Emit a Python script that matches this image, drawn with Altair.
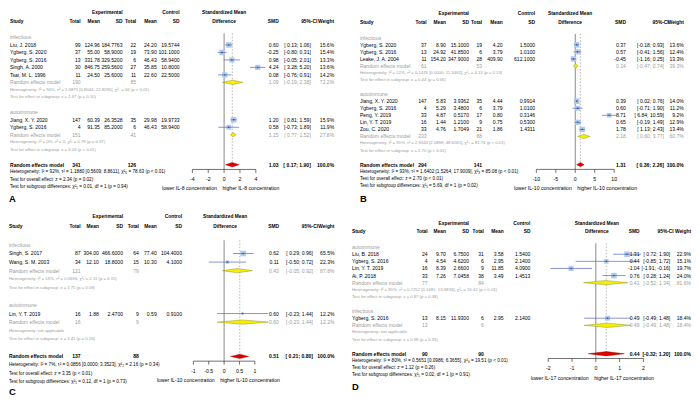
import altair as alt
import pandas as pd

# ---------------- data ----------------
# Panel A : IL-8
A_group = ["infectious"] * 5 + ["autoimmune"] * 2
A_study = ["Liu, J. 2018", "Ygberg, S. 2020", "Ygberg, S. 2016", "Singh, A. 2000",
           "Tsai, M. L. 1996", "Jiang, X. Y. 2020", "Ygberg, S. 2016"]
A_e_n = [99, 37, 13, 30, 11, 147, 4]
A_e_mean = [124.96, 55.00, 331.78, 846.75, 24.50, 60.39, 91.35]
A_e_sd = [184.7763, 58.9000, 329.5200, 259.5600, 25.6000, 26.3528, 85.2000]
A_c_n = [22, 19, 6, 27, 11, 35, 6]
A_c_mean = [24.20, 73.90, 46.43, 35.85, 22.60, 29.98, 46.43]
A_c_sd = [19.5744, 101.1000, 58.9400, 10.8000, 22.5000, 19.9733, 58.9400]
A_smd = [0.60, -0.25, 0.98, 4.24, 0.08, 1.20, 0.58]
A_lo = [0.13, -0.80, -0.05, 3.28, -0.76, 0.81, -0.73]
A_hi = [1.06, 0.31, 2.01, 5.20, 0.91, 1.59, 1.89]
A_w = [15.6, 15.4, 13.3, 13.6, 14.2, 15.9, 11.9]
A_sub_names = ["infectious", "autoimmune"]
A_sub_e_n = [190, 151]
A_sub_c_n = [85, 41]
A_sub_smd = [1.09, 1.15]
A_sub_lo = [-0.19, 0.77]
A_sub_hi = [2.38, 1.52]
A_sub_w = [72.2, 27.8]
A_sub_het = ["Heterogeneity: I² = 94%, τ² = 1.9875 [0.8044; 22.8295], χ²₄ = 66 (p < 0.01)",
             "Heterogeneity: I² = 0%, τ² = 0, χ²₁ = 0.79 (p = 0.37)"]
A_sub_test = ["Test for effect in subgroup: z = 1.67 (p = 0.10)",
              "Test for effect in subgroup: z = 6.03 (p < 0.01)"]
A_all = [341, 126, 1.03, 0.17, 1.90, 100.0]
A_all_text = ["Heterogeneity: I² = 92%, τ² = 1.1880 [0.5609; 8.8611], χ²₆ = 78.63 (p < 0.01)",
              "Test for overall effect: z = 2.34 (p = 0.02)",
              "Test for subgroup differences: χ²₁ = 0.01, df = 1 (p = 0.94)"]
A_ticks = [-4, -2, 0, 2, 4]
A_axis_labels = ["lower IL-8 concentration", "higher IL-8 concentration"]

# Panel B : IL-10
B_group = ["infectious"] * 3 + ["autoimmune"] * 5
B_study = ["Ygberg, S. 2020", "Ygberg, S. 2016", "Leake, J. A. 2004", "Jiang, X. Y. 2020",
           "Ygberg, S. 2016", "Peng, Y. 2019", "Lin, Y. T. 2019", "Zou, C. 2020"]
B_e_n = [37, 13, 11, 147, 4, 33, 16, 33]
B_e_mean = [8.90, 24.92, 154.20, 5.83, 5.29, 4.87, 1.44, 4.76]
B_e_sd = [15.1000, 41.8500, 347.9000, 3.9362, 3.4800, 0.5170, 1.2100, 1.7049]
B_c_n = [19, 6, 28, 35, 6, 17, 9, 21]
B_c_mean = [4.20, 3.79, 409.90, 4.44, 3.79, 0.80, 0.75, 1.86]
B_c_sd = [1.5000, 1.0100, 612.1000, 0.9914, 1.0100, 0.3146, 0.5300, 1.4311]
B_smd = [0.37, 0.57, -0.45, 0.39, 0.60, 8.71, 0.65, 1.78]
B_lo = [-0.18, -0.41, -1.16, 0.02, -0.71, 6.84, -0.19, 1.13]
B_hi = [0.93, 1.56, 0.25, 0.76, 1.90, 10.59, 1.49, 2.43]
B_w = [13.6, 12.4, 13.3, 14.0, 11.2, 9.2, 12.9, 13.4]
B_sub_names = ["infectious", "autoimmune"]
B_sub_e_n = [61, 233]
B_sub_c_n = [53, 88]
B_sub_smd = [0.14, 2.18]
B_sub_lo = [-0.47, 0.60]
B_sub_hi = [0.74, 3.77]
B_sub_w = [39.3, 60.7]
B_sub_het = ["Heterogeneity: I² = 52%, τ² = 0.1476 [0.0000; 11.3492], χ²₂ = 4.13 (p = 0.13)",
             "Heterogeneity: I² = 95%, τ² = 2.9643 [2.0898; 48.6581], χ²₄ = 81.74 (p < 0.01)"]
B_sub_test = ["Test for effect in subgroup: z = 0.44 (p = 0.66)",
              "Test for effect in subgroup: z = 2.70 (p < 0.01)"]
B_all = [294, 141, 1.31, 0.36, 2.26, 100.0]
B_all_text = ["Heterogeneity: I² = 93%, τ² = 1.6402 [1.5264; 17.9009], χ²₈ = 85.08 (p < 0.01)",
              "Test for overall effect: z = 2.70 (p < 0.01)",
              "Test for subgroup differences: χ²₁ = 5.69, df = 1 (p = 0.02)"]
B_ticks = [-10, -5, 0, 5, 10]
B_axis_labels = ["lower IL-10 concentration", "higher IL-10 concentration"]

# Panel C : IL-10
C_group = ["infectious"] * 2 + ["autoimmune"]
C_study = ["Singh, S. 2017", "Wang, S. M. 2003", "Lin, Y. T. 2019"]
C_e_n = [87, 34, 16]
C_e_mean = [304.00, 12.10, 1.88]
C_e_sd = [466.6000, 18.8000, 2.4700]
C_c_n = [64, 15, 9]
C_c_mean = [77.40, 10.30, 0.59]
C_c_sd = [104.4000, 4.1000, 0.9100]
C_smd = [0.62, 0.11, 0.60]
C_lo = [0.29, -0.50, -0.23]
C_hi = [0.96, 0.72, 1.44]
C_w = [65.5, 22.3, 12.2]
C_sub_names = ["infectious", "autoimmune"]
C_sub_e_n = [121, 16]
C_sub_c_n = [79, 9]
C_sub_smd = [0.43, 0.60]
C_sub_lo = [-0.05, -0.23]
C_sub_hi = [0.92, 1.44]
C_sub_w = [87.8, 12.2]
C_sub_het = ["Heterogeneity: I² = 53%, τ² = 0.0694, χ²₁ = 2.11 (p = 0.15)",
             "Heterogeneity: not applicable"]
C_sub_test = ["Test for effect in subgroup: z = 1.75 (p = 0.08)",
              "Test for effect in subgroup: z = 1.41 (p = 0.16)"]
C_all = [137, 88, 0.51, 0.21, 0.80, 100.0]
C_all_text = ["Heterogeneity: I² = 7%, τ² = 0.0856 [0.0000; 3.3523], χ²₂ = 2.16 (p = 0.34)",
              "Test for overall effect: z = 3.35 (p < 0.01)",
              "Test for subgroup differences: χ²₁ = 0.12, df = 1 (p = 0.73)"]
C_ticks = [-1, -0.5, 0, 0.5, 1]
C_axis_labels = ["lower IL-10 concentration", "higher IL-10 concentration"]

# Panel D : IL-17
D_group = ["autoimmune"] * 4 + ["infectious"]
D_study = ["Liu, B. 2018", "Ygberg, S. 2016", "Lin, Y. T. 2019", "Ai, P. 2018", "Ygberg, S. 2016"]
D_e_n = [24, 4, 16, 33, 13]
D_e_mean = [9.70, 4.54, 8.39, 7.26, 8.15]
D_e_sd = [6.7500, 4.6200, 2.6600, 7.0458, 11.9300]
D_c_n = [31, 6, 9, 38, 6]
D_c_mean = [3.58, 2.95, 11.85, 3.49, 2.95]
D_c_sd = [1.5400, 2.1400, 4.0900, 1.4513, 2.1400]
D_smd = [1.31, 0.44, -1.04, 0.76, 0.49]
D_lo = [0.72, -0.85, -1.91, 0.28, -0.49]
D_hi = [1.90, 1.72, -0.16, 1.24, 1.48]
D_w = [22.9, 15.1, 19.7, 24.0, 18.4]
D_sub_names = ["autoimmune", "infectious"]
D_sub_e_n = [77, 13]
D_sub_c_n = [84, 6]
D_sub_smd = [0.41, 0.49]
D_sub_lo = [-0.52, -0.49]
D_sub_hi = [1.34, 1.48]
D_sub_w = [81.6, 18.4]
D_sub_het = ["Heterogeneity: I² = 85%, τ² = 0.7252 [0.1481; 13.9833], χ²₃ = 19.42 (p < 0.01)",
             "Heterogeneity: not applicable"]
D_sub_test = ["Test for effect in subgroup: z = 0.87 (p = 0.38)",
              "Test for effect in subgroup: z = 0.98 (p = 0.33)"]
D_all = [90, 90, 0.44, -0.32, 1.20, 100.0]
D_all_text = ["Heterogeneity: I² = 80%, τ² = 0.5651 [0.0986; 6.3655], χ²₄ = 19.51 (p < 0.01)",
              "Test for overall effect: z = 1.12 (p = 0.26)",
              "Test for subgroup differences: χ²₁ = 0.02, df = 1 (p = 0.91)"]
D_ticks = [-2, -1, 0, 1, 2]
D_axis_labels = ["lower IL-17 concentration", "higher IL-17 concentration"]

# ---------------- styling / layout ----------------
FONT = "Liberation Sans"
FS = 5.1
FS_H = 4.9
FS_SMALL = 4.3
FS_OVER = 4.7
FS_AX = 5.2
GRAY = "#9c9c9c"
SQ = "#b0cbe8"
LINE = "#5566bb"
DOT = "#2a48a8"
PW, PH = 345, 195

LAYOUT = {
    "A": dict(ox=4, oy=3, study=6, e_n=77.3, e_mean=96.7, e_sd=119.5, c_n=133.3, c_mean=154, c_sd=177,
              xr=(190, 254), hdr=222, smd=277, ci=309.5, cih=316, w=333, y0=29, dy=7.55, lab=-4.5,
              letter=(5, 191.7)),
    "B": dict(ox=355, oy=3, study=365, e_n=432.3, e_mean=451.7, e_sd=475, c_n=488.3, c_mean=509, c_sd=541.7,
              xr=(543, 621.5), hdr=577, smd=633.3, ci=671.7, cih=676.5, w=691.7, y0=29.3, dy=7.11, lab=-0.7,
              letter=(365, 192.3)),
    "C": dict(ox=4, oy=208, study=5, e_n=77.3, e_mean=95.7, e_sd=120, c_n=136, c_mean=154, c_sd=179.5,
              xr=(191, 253), hdr=223, smd=277.3, ci=311.7, cih=316.7, w=333.3, y0=248.3, dy=8.65, lab=-6.7,
              letter=(5, 397)),
    "D": dict(ox=355, oy=208, study=357, e_n=433.3, e_mean=451.7, e_sd=475, c_n=490, c_mean=510, c_sd=537,
              xr=(555, 651), hdr=604, smd=647, ci=678, cih=681.5, w=699, y0=250.5, dy=7.17, lab=-4.5,
              letter=(357, 392)),
}


def ci_text(lo, hi):
    return "[" + (" " if lo >= 0 else "") + f"{lo:.2f}; " + f"{hi:.2f}" + "]"


def build_panel(letter, P, L):
    ox, oy = L["ox"], L["oy"]
    X = lambda v: v - ox
    y0 = L["y0"] - oy
    ys = alt.Scale(domain=[0, 1], range=[y0, y0 + L["dy"]], zero=False, nice=False)
    ticks = P["ticks"]
    xs = alt.Scale(domain=[ticks[0], ticks[-1]], range=[X(L["xr"][0]), X(L["xr"][1])],
                   zero=False, nice=False)

    label_rows, study_rows, sub_rows, stat_rows = [], [], [], []
    r = 0
    for gi, g in enumerate(P["sub_names"]):
        label_rows.append(dict(row=r, text=g))
        r += 1
        for i, gg in enumerate(P["group"]):
            if gg != g:
                continue
            study_rows.append(dict(
                row=r, name=P["study"][i], en=str(P["e_n"][i]), em=f"{P['e_mean'][i]:.2f}",
                esd=f"{P['e_sd'][i]:.4f}", cn=str(P["c_n"][i]), cm=f"{P['c_mean'][i]:.2f}",
                csd=f"{P['c_sd'][i]:.4f}", smd=P["smd"][i], lo=P["lo"][i], hi=P["hi"][i],
                w=P["w"][i], smd_t=f"{P['smd'][i]:.2f}", ci_t=ci_text(P["lo"][i], P["hi"][i]),
                w_t=f"{P['w'][i]:.1f}%"))
            r += 1
        sub_rows.append(dict(
            row=r, name="Random effects model", en=str(P["sub_e_n"][gi]), cn=str(P["sub_c_n"][gi]),
            smd=P["sub_smd"][gi], lo=P["sub_lo"][gi], hi=P["sub_hi"][gi],
            smd_t=f"{P['sub_smd'][gi]:.2f}", ci_t=ci_text(P["sub_lo"][gi], P["sub_hi"][gi]),
            w_t=f"{P['sub_w'][gi]:.1f}%"))
        stat_rows.append(dict(row=r + 1, text=P["sub_het"][gi]))
        stat_rows.append(dict(row=r + 2, text=P["sub_test"][gi]))
        r += 4
    ov = r
    en_a, cn_a, smd_a, lo_a, hi_a, w_a = P["all"]
    over_df = pd.DataFrame([dict(row=ov, name="Random effects model", en=str(en_a), cn=str(cn_a),
                                 smd_t=f"{smd_a:.2f}", ci_t=ci_text(lo_a, hi_a), w_t=f"{w_a:.1f}%")])
    over_stats = pd.DataFrame([dict(row=ov + 1 + k, text=t) for k, t in enumerate(P["all_text"])])

    lab_df = pd.DataFrame(label_rows)
    st_df = pd.DataFrame(study_rows)
    sub_df = pd.DataFrame(sub_rows)
    stat_df = pd.DataFrame(stat_rows)

    h = 2.2 / L["dy"]
    dia_sub = []
    for k, s in enumerate(sub_rows):
        dia_sub += [dict(id=k, x=s["lo"], y=s["row"], y2=s["row"]),
                    dict(id=k, x=s["smd"], y=s["row"] - h, y2=s["row"] + h),
                    dict(id=k, x=s["hi"], y=s["row"], y2=s["row"])]
    dia_sub = pd.DataFrame(dia_sub)
    dia_all = pd.DataFrame([dict(id=0, x=lo_a, y=ov, y2=ov),
                            dict(id=0, x=smd_a, y=ov - h, y2=ov + h),
                            dict(id=0, x=hi_a, y=ov, y2=ov)])
    one = pd.DataFrame({"a": [0]})
    tick_df = pd.DataFrame({"t": ticks, "lab": [f"{t:g}" for t in ticks]})

    def T(df, field, x, align="right", size=FS, weight="normal", color="black", row_field="row"):
        return alt.Chart(df).mark_text(
            align=align, baseline="middle", font=FONT, fontSize=size, fontWeight=weight, color=color
        ).encode(x=alt.value(X(x)), y=alt.Y(f"{row_field}:Q", scale=ys, axis=None),
                 text=alt.Text(f"{field}:N"))

    def H(text, x, align, row, size=FS_H, weight="bold"):
        return alt.Chart(one).mark_text(
            align=align, baseline="middle", font=FONT, fontSize=size, fontWeight=weight, color="black",
            text=text
        ).encode(x=alt.value(X(x)), y=alt.YDatum(row, scale=ys, axis=None))

    layers = []
    # reference lines
    layers.append(alt.Chart(one).mark_rule(color="#555555", strokeWidth=0.7, y2Offset=4.8).encode(
        x=alt.XDatum(0, scale=xs, axis=None), y=alt.YDatum(-0.55, scale=ys, axis=None),
        y2=alt.Y2Datum(ov)))
    layers.append(alt.Chart(one).mark_rule(color="#8a8a8a", strokeWidth=0.6, strokeDash=[1.6, 1.6]).encode(
        x=alt.XDatum(smd_a, scale=xs, axis=None), y=alt.YDatum(-0.55, scale=ys, axis=None),
        y2=alt.Y2Datum(ov)))
    # studies
    maxw = max(P["w"])
    layers.append(alt.Chart(st_df).mark_square(color=SQ, opacity=1).encode(
        x=alt.X("smd:Q", scale=xs, axis=None), y=alt.Y("row:Q", scale=ys, axis=None),
        size=alt.Size("w:Q", scale=alt.Scale(domain=[0, maxw], range=[0, 32]), legend=None)))
    layers.append(alt.Chart(st_df).mark_rule(color=LINE, strokeWidth=0.7).encode(
        x=alt.X("lo:Q", scale=xs, axis=None), x2="hi:Q", y=alt.Y("row:Q", scale=ys, axis=None)))
    layers.append(alt.Chart(st_df).mark_circle(color=DOT, size=2.2, opacity=1).encode(
        x=alt.X("smd:Q", scale=xs, axis=None), y=alt.Y("row:Q", scale=ys, axis=None)))
    # diamonds
    layers.append(alt.Chart(dia_sub).mark_area(orient="vertical", fill="#f4f000", stroke="#7d7a20",
                                               strokeWidth=0.4, opacity=1).encode(
        x=alt.X("x:Q", scale=xs, axis=None), y=alt.Y("y:Q", scale=ys, axis=None), y2="y2:Q",
        detail="id:N"))
    layers.append(alt.Chart(dia_all).mark_area(orient="vertical", fill="#e00000", stroke="#8a0000",
                                               strokeWidth=0.4, opacity=1).encode(
        x=alt.X("x:Q", scale=xs, axis=None), y=alt.Y("y:Q", scale=ys, axis=None), y2="y2:Q",
        detail="id:N"))
    # forest axis
    layers.append(alt.Chart(one).mark_rule(color="#333333", strokeWidth=0.7, yOffset=4.8).encode(
        x=alt.XDatum(ticks[0], scale=xs, axis=None), x2=alt.X2Datum(ticks[-1]),
        y=alt.YDatum(ov, scale=ys, axis=None)))
    layers.append(alt.Chart(tick_df).mark_rule(color="#333333", strokeWidth=0.7, yOffset=4.8,
                                               y2Offset=8.3).encode(
        x=alt.X("t:Q", scale=xs, axis=None), y=alt.YDatum(ov, scale=ys, axis=None),
        y2=alt.Y2Datum(ov)))
    layers.append(alt.Chart(tick_df).mark_text(font=FONT, fontSize=FS_AX, baseline="middle",
                                               align="center", dy=14.8, color="black").encode(
        x=alt.X("t:Q", scale=xs, axis=None), y=alt.YDatum(ov, scale=ys, axis=None),
        text="lab:N"))
    for k, (al, off) in enumerate([("right", L["lab"] - 2.8), ("left", L["lab"] + 2.8)]):
        layers.append(alt.Chart(one).mark_text(font=FONT, fontSize=FS_AX, baseline="middle", align=al,
                                               dx=off, dy=24, color="black",
                                               text=P["axis_labels"][k]).encode(
            x=alt.XDatum(0, scale=xs, axis=None), y=alt.YDatum(ov, scale=ys, axis=None)))

    # headers
    layers += [
        H("Study", L["study"], "left", -2.1),
        H("Experimental", L["e_sd"], "right", -3.3),
        H("Control", L["c_sd"], "right", -3.3),
        H("Total", L["e_n"], "right", -2.1), H("Mean", L["e_mean"], "right", -2.1),
        H("SD", L["e_sd"], "right", -2.1),
        H("Total", L["c_n"], "right", -2.1), H("Mean", L["c_mean"], "right", -2.1),
        H("SD", L["c_sd"], "right", -2.1),
        H("Standardized Mean", L["hdr"], "center", -3.3), H("Difference", L["hdr"], "center", -2.1),
        H("SMD", L["smd"], "right", -2.1), H("95%-CI", L["cih"], "right", -2.1),
        H("Weight", L["w"], "right", -2.1),
    ]
    # group labels
    layers.append(T(lab_df, "text", L["study"], align="left", color=GRAY))
    # study rows
    layers.append(T(st_df, "name", L["study"], align="left"))
    for f, c in [("en", "e_n"), ("em", "e_mean"), ("esd", "e_sd"), ("cn", "c_n"), ("cm", "c_mean"),
                 ("csd", "c_sd"), ("smd_t", "smd"), ("ci_t", "ci"), ("w_t", "w")]:
        layers.append(T(st_df, f, L[c]))
    # subgroup summary rows
    layers.append(T(sub_df, "name", L["study"], align="left", color=GRAY))
    for f, c in [("en", "e_n"), ("cn", "c_n"), ("smd_t", "smd"), ("ci_t", "ci"), ("w_t", "w")]:
        layers.append(T(sub_df, f, L[c], color=GRAY))
    layers.append(T(stat_df, "text", L["study"], align="left", size=FS_SMALL, color=GRAY))
    # overall
    layers.append(T(over_df, "name", L["study"], align="left", weight="bold"))
    for f, c in [("en", "e_n"), ("cn", "c_n"), ("smd_t", "smd"), ("ci_t", "ci"), ("w_t", "w")]:
        layers.append(T(over_df, f, L[c], weight="bold"))
    layers.append(T(over_stats, "text", L["study"], align="left", size=FS_OVER))
    # panel letter
    layers.append(alt.Chart(one).mark_text(font=FONT, fontSize=9.5, fontWeight="bold", align="left",
                                           baseline="middle", color="black", text=letter).encode(
        x=alt.value(X(L["letter"][0])), y=alt.value(L["letter"][1] - oy)))

    return alt.layer(*layers).properties(width=PW, height=PH)


def pack(prefix):
    g = globals()
    keys = ["group", "study", "e_n", "e_mean", "e_sd", "c_n", "c_mean", "c_sd", "smd", "lo", "hi", "w",
            "sub_names", "sub_e_n", "sub_c_n", "sub_smd", "sub_lo", "sub_hi", "sub_w", "sub_het",
            "sub_test", "all", "all_text", "ticks", "axis_labels"]
    return {k: g[f"{prefix}_{k}"] for k in keys}


pA = build_panel("A", pack("A"), LAYOUT["A"])
pB = build_panel("B", pack("B"), LAYOUT["B"])
pC = build_panel("C", pack("C"), LAYOUT["C"])
pD = build_panel("D", pack("D"), LAYOUT["D"])

top = alt.hconcat(pA, pB, spacing=0).resolve_scale(x="independent", y="independent", size="independent")
bot = alt.hconcat(pC, pD, spacing=0).resolve_scale(x="independent", y="independent", size="independent")
chart = alt.vconcat(top, bot, spacing=0).resolve_scale(
    x="independent", y="independent", size="independent"
).properties(padding=0, background="white").configure_view(stroke=None).configure_axis(disable=True)

chart.save("out.html", embed_options={"renderer": "svg", "actions": False})
